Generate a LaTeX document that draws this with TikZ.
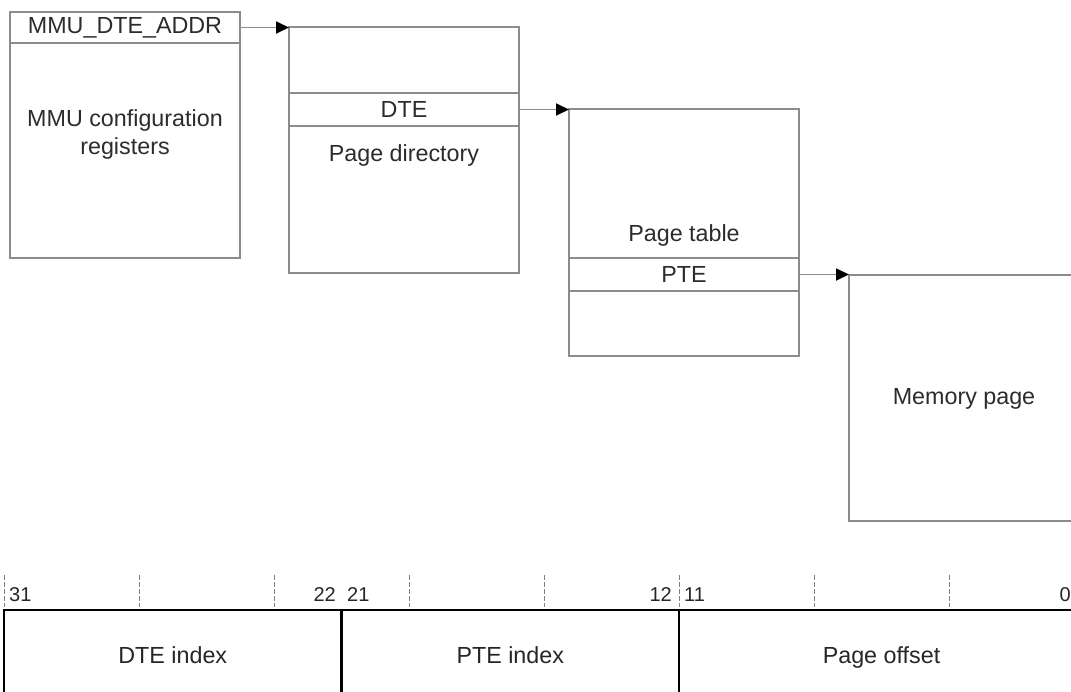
\documentclass[tikz,border=0pt]{standalone}
\usepackage{fontspec}
\setmainfont{Liberation Sans}
\usetikzlibrary{arrows.meta}
\definecolor{boxgray}{HTML}{8C8C8C}
\definecolor{txtgray}{HTML}{2C2C2C}
\begin{document}
\begin{tikzpicture}[x=1pt,y=-1pt,
  box/.style={draw=boxgray,line width=1.8pt,rectangle,inner sep=0pt,outer sep=0pt,anchor=north west,
    font=\fontsize{23.3}{28}\selectfont,text=txtgray},
  lbl/.style={font=\fontsize{23.3}{28}\selectfont,text=txtgray,inner sep=0pt},
  arr/.style={draw=boxgray,line width=1.8pt,-{Triangle[length=13pt,width=12pt,color=black]}},
  field/.style={draw=black,line width=2.4pt,rectangle,inner sep=0pt,outer sep=0pt,anchor=north west,
    minimum height=90pt,text height=19pt,text depth=3pt,font=\fontsize{23.3}{28}\selectfont,text=black!85},
  bittick/.style={draw=black!50,line width=1pt,dash pattern=on 5pt off 2pt},
  bit/.style={font=\fontsize{20}{24}\selectfont,text=black!85,inner sep=0pt}]
\useasboundingbox (0,0) rectangle (1071,691);
\clip (0,0) rectangle (1071,691);
\fill[white] (0,0) rectangle (1071,691);

% MMU configuration registers
\node[box,minimum width=230pt,minimum height=246pt] (mmu) at (10,12) {};
\node[box,minimum width=230pt,minimum height=31pt] (addr) at (10,12) {MMU\_DTE\_ADDR};
\node[lbl,align=center] (mmutxt) at (125,134) {MMU configuration\\registers};

% Page directory
\node[box,minimum width=230pt,minimum height=246pt] (pd) at (289,27) {};
\node[box,minimum width=230pt,minimum height=33pt] (dte) at (289,93) {DTE};
\node[lbl] (pdtxt) at (404,155) {Page directory};

% Page table
\node[box,minimum width=230pt,minimum height=247pt] (pt) at (569,109) {};
\node[lbl] (pttxt) at (684,235) {Page table};
\node[box,minimum width=230pt,minimum height=33pt] (pte) at (569,258) {PTE};

% Memory page
\node[box,minimum width=320pt,minimum height=246pt] (mem) at (849,275) {};
\node[lbl] (memtxt) at (964,399) {Memory page};

% arrows
\draw[arr] (addr.east) -- (addr.east -| pd.west);
\draw[arr] (dte.east) -- (dte.east -| pt.west);
\draw[arr] (pte.east) -- (pte.east -| mem.west);

% bit ruler ticks
\foreach \i in {0,...,8} \draw[bittick] (4+135*\i,575) -- (4+135*\i,607);

% address fields
\node[field,minimum width=337.5pt] (dtei) at (4,610) {DTE index};
\node[field,minimum width=337.5pt] (ptei) at (341.5,610) {PTE index};
\node[field,minimum width=405pt] (poff) at (679,610) {Page offset};

% bit labels
\node[bit,anchor=base west] (b31) at (9,601) {31};
\node[bit,anchor=base east] (b22) at (336,601) {22};
\node[bit,anchor=base west] (b21) at (347,601) {21};
\node[bit,anchor=base east] (b12) at (672,601) {12};
\node[bit,anchor=base west] (b11) at (684,601) {11};
\node[bit,anchor=base east] (b0) at (1071,601) {0};
\end{tikzpicture}
\end{document}
